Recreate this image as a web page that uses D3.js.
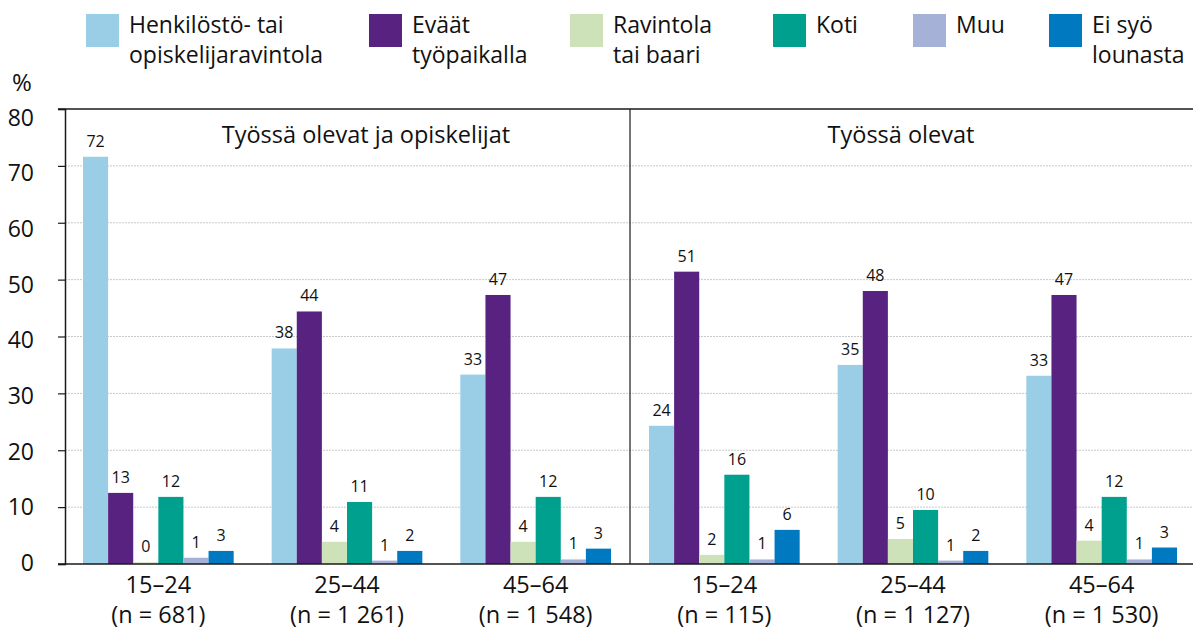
<!DOCTYPE html>
<html>
<head>
<meta charset="utf-8">
<script src="https://cdn.jsdelivr.net/npm/d3@7"></script>
<style>
  body { margin: 0; background: #fff; }
  text { font-family: "Open Sans", "Noto Sans", sans-serif; fill: #111; }
</style>
</head>
<body>
<div id="chart"></div>
<script>
// data
let groups = ["g1", "g2", "g3", "g4", "g5", "g6"];
let ageLabels = ["15–24", "25–44", "45–64", "15–24", "25–44", "45–64"];
let nLabels = ["(n = 681)", "(n = 1 261)", "(n = 1 548)", "(n = 115)", "(n = 1 127)", "(n = 1 530)"];
let panelTitles = ["Työssä olevat ja opiskelijat", "Työssä olevat"];

let seriesNames = [
    ["Henkilöstö- tai", "opiskelijaravintola"],
    ["Eväät", "työpaikalla"],
    ["Ravintola", "tai baari"],
    ["Koti"],
    ["Muu"],
    ["Ei syö", "lounasta"]
];
let seriesColors = ["#99cee6", "#582380", "#cde2b9", "#00a08f", "#a5b1d7", "#0079c1"];

// bar heights (%) per series, one value per group
let henkilosto = [71.6, 37.9, 33.3, 24.3, 35.0, 33.1];
let evaat      = [12.5, 44.4, 47.3, 51.4, 48.0, 47.3];
let ravintola  = [0.3, 3.9, 3.9, 1.6, 4.4, 4.1];
let koti       = [11.8, 10.9, 11.8, 15.7, 9.5, 11.8];
let muu        = [1.1, 0.6, 0.8, 0.8, 0.6, 0.8];
let eiSyo      = [2.3, 2.3, 2.7, 6.0, 2.3, 2.9];

// printed value labels
let henkilostoLbl = [72, 38, 33, 24, 35, 33];
let evaatLbl      = [13, 44, 47, 51, 48, 47];
let ravintolaLbl  = [0, 4, 4, 2, 5, 4];
let kotiLbl       = [12, 11, 12, 16, 10, 12];
let muuLbl        = [1, 1, 1, 1, 1, 1];
let eiSyoLbl      = [3, 2, 3, 6, 2, 3];

let yTicks = [0, 10, 20, 30, 40, 50, 60, 70, 80];

let values = [henkilosto, evaat, ravintola, koti, muu, eiSyo];
let labels = [henkilostoLbl, evaatLbl, ravintolaLbl, kotiLbl, muuLbl, eiSyoLbl];

let width = 1193, height = 630;
let plotLeft = 65, plotRight = 1195, plotTop = 109, plotBottom = 564;

let svg = d3.select("#chart").append("svg")
    .attr("width", width)
    .attr("height", height);

let x = d3.scaleBand()
    .domain(groups)
    .range([plotLeft, plotRight])
    .paddingInner(0.2014)
    .paddingOuter(0.0954);

let xs = d3.scaleBand()
    .domain(d3.range(seriesNames.length))
    .range([0, x.bandwidth()]);

let y = d3.scaleLinear()
    .domain([0, 80])
    .range([plotBottom, plotTop]);

// the tick labels in the original sit on a slightly tighter spacing
let yLab = d3.scaleLinear()
    .domain([0, 80])
    .range([562.5, 117.5]);

// gridlines
svg.append("g").selectAll("line")
    .data(yTicks.filter(d => d > 0 && d < 80))
    .join("line")
    .attr("x1", plotLeft).attr("x2", width)
    .attr("y1", d => y(d)).attr("y2", d => y(d))
    .attr("stroke", "#c8c8c8")
    .attr("stroke-width", 1)
    .attr("stroke-dasharray", "2,1");

// y axis (line + ticks), labels drawn separately
let yAxis = svg.append("g")
    .attr("transform", `translate(${plotLeft},0)`)
    .call(d3.axisLeft(y).tickValues(yTicks).tickSize(7).tickFormat(""));
yAxis.select(".domain").attr("stroke", "#1a1a1a").attr("stroke-width", 1.5);
yAxis.selectAll(".tick line").attr("stroke", "#1a1a1a").attr("stroke-width", 1.2);

svg.append("g").selectAll("text")
    .data(yTicks)
    .join("text")
    .attr("x", 34)
    .attr("y", d => yLab(d))
    .attr("dy", "0.36em")
    .attr("text-anchor", "end")
    .attr("font-size", 23)
    .text(d => d);

svg.append("text")
    .attr("x", 22).attr("y", 91)
    .attr("text-anchor", "middle")
    .attr("font-size", 24)
    .text("%");

// top border
svg.append("line")
    .attr("x1", plotLeft - 7).attr("x2", width)
    .attr("y1", y(80)).attr("y2", y(80))
    .attr("stroke", "#1a1a1a").attr("stroke-width", 1.5);

// panel divider
let divX = (x("g3") + x.bandwidth() + x("g4")) / 2;
svg.append("line")
    .attr("x1", divX).attr("x2", divX)
    .attr("y1", y(80)).attr("y2", y(0))
    .attr("stroke", "#1a1a1a").attr("stroke-width", 1.2);

// bars
let barData = [];
groups.forEach((g, gi) => {
    values.forEach((vals, si) => {
        barData.push({ group: g, series: si, value: vals[gi], label: labels[si][gi] });
    });
});

svg.append("g").selectAll("rect")
    .data(barData)
    .join("rect")
    .attr("x", d => x(d.group) + xs(d.series))
    .attr("y", d => y(d.value))
    .attr("width", xs.bandwidth())
    .attr("height", d => y(0) - y(d.value))
    .attr("fill", d => seriesColors[d.series]);

svg.append("g").selectAll("text")
    .data(barData)
    .join("text")
    .attr("x", d => x(d.group) + xs(d.series) + xs.bandwidth() / 2)
    .attr("y", d => y(d.value) - 10)
    .attr("text-anchor", "middle")
    .attr("font-size", 16)
    .text(d => d.label);

// baseline on top of bars
svg.append("line")
    .attr("x1", plotLeft - 7).attr("x2", width)
    .attr("y1", y(0)).attr("y2", y(0))
    .attr("stroke", "#1a1a1a").attr("stroke-width", 1.5);

// x labels
let xl = svg.append("g").selectAll("g")
    .data(groups)
    .join("g")
    .attr("transform", d => `translate(${x(d) + x.bandwidth() / 2},0)`);
xl.append("text")
    .attr("y", 593)
    .attr("text-anchor", "middle")
    .attr("font-size", 23.5)
    .text((d, i) => ageLabels[i]);
xl.append("text")
    .attr("y", 623)
    .attr("text-anchor", "middle")
    .attr("font-size", 23.5)
    .text((d, i) => nLabels[i]);

// panel titles
let panelCenters = [366, 901];
svg.append("g").selectAll("text")
    .data(panelTitles)
    .join("text")
    .attr("x", (d, i) => panelCenters[i])
    .attr("y", 143)
    .attr("text-anchor", "middle")
    .attr("font-size", 23.5)
    .text(d => d);

// legend
let legendX = [86, 369, 570, 773, 913, 1049];
let legend = svg.append("g").selectAll("g")
    .data(seriesNames)
    .join("g")
    .attr("transform", (d, i) => `translate(${legendX[i]},14)`);
legend.append("rect")
    .attr("width", 33).attr("height", 33)
    .attr("fill", (d, i) => seriesColors[i]);
legend.each(function(d) {
    d3.select(this).selectAll("text")
        .data(d)
        .join("text")
        .attr("x", 43)
        .attr("y", (t, j) => 19 + j * 30)
        .attr("font-size", 23)
        .text(t => t);
});
</script>
</body>
</html>
